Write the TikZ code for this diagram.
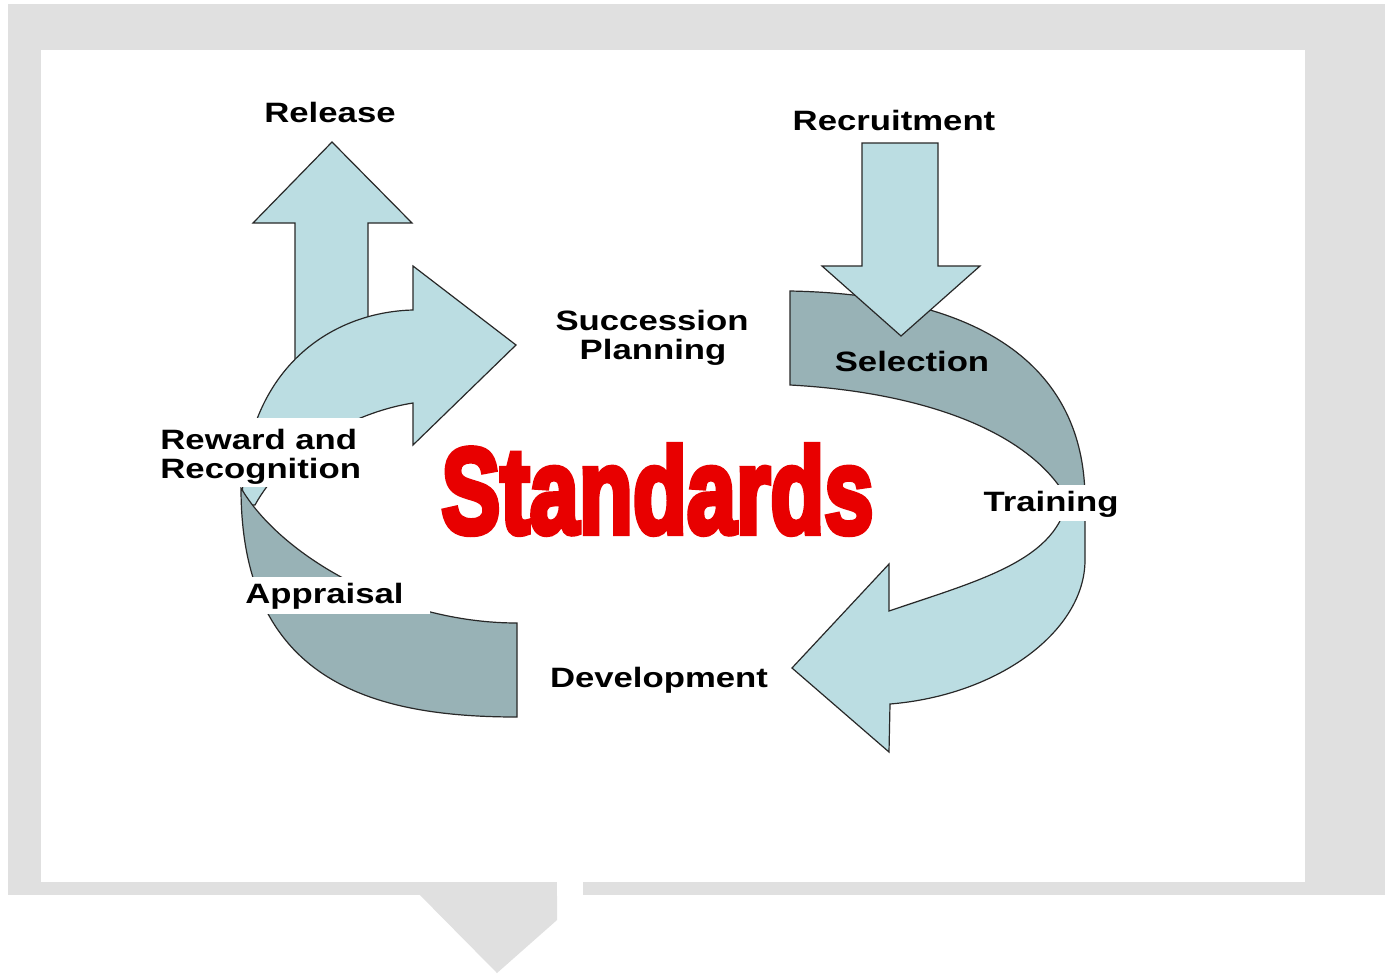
\documentclass[tikz,border=0pt]{standalone}
\usepackage{fontspec}
\setmainfont{Liberation Sans}[FakeStretch=1.24]
\newfontfamily\stdfont{Liberation Sans Bold}[FakeBold=5]
\definecolor{lightblue}{RGB}{187,221,226}
\definecolor{bandgrey}{RGB}{152,178,182}
\definecolor{outline}{RGB}{40,40,40}
\definecolor{framegrey}{RGB}{224,224,224}
\definecolor{stdred}{RGB}{232,0,0}
\begin{document}
\begin{tikzpicture}[x=0.5pt,y=-0.5pt,
  shapeline/.style={draw=outline, line width=0.6pt, line join=miter},
  lightarrow/.style={shapeline, fill=lightblue},
  greyband/.style={shapeline, fill=bandgrey},
  lbl/.style={font=\fontsize{14}{14.5}\selectfont\bfseries, inner sep=0pt, anchor=base, text=black},
  labelbg/.style={fill=white}]
\useasboundingbox (0,0) rectangle (1385,975);
\fill[white] (0,0) rectangle (1385,975);
% frame
\fill[framegrey] (8,4) rectangle (1385,895);
\fill[framegrey] (413,888) -- (557,882) -- (557,920) -- (497,973) -- cycle;
\fill[white] (41,50) rectangle (1305,882);
\fill[white] (557,882) rectangle (583,896);

% Release arrow
\draw[lightarrow] (295,380) -- (295,223) -- (253,223) -- (332,142) -- (412,223) -- (368,223) -- (368,380) -- cycle;
% Succession curved arrow
\draw[lightarrow] (242,505) .. controls (243,370) and (330,312) .. (413,310) -- (413,266) -- (516,345) -- (413,445) -- (413,403) .. controls (355,412) and (285,450) .. (255,505) -- cycle;
% Appraisal band
\draw[greyband] (517,623) -- (517,717) .. controls (370,717) and (241,680) .. (241,488) .. controls (280,555) and (395,623) .. (517,623) -- cycle;

% Selection band
\draw[greyband] (790,291) .. controls (1000,295) and (1085,380) .. (1085,500) -- (1068,500) .. controls (1030,430) and (920,392) .. (790,385) -- cycle;
% Development curved arrow
\draw[lightarrow] (1085,495) -- (1085,560) .. controls (1085,630) and (1000,695) .. (890,704) -- (889,752) -- (792,668) -- (889,564) -- (889,611) .. controls (980,580) and (1060,560) .. (1068,495) -- cycle;
% Recruitment arrow
\draw[lightarrow] (862,143) -- (938,143) -- (938,266) -- (980,266) -- (901,336) -- (822,266) -- (862,266) -- cycle;

% label backgrounds
\fill[labelbg] (155,418) rectangle (365,487);
\fill[labelbg] (235,577) rectangle (430,614);
\fill[labelbg] (982,485) rectangle (1120,521);

% labels
\node[lbl] (release) at (330,122) {Release};
\node[lbl] (recruit) at (894,130) {Recruitment};
\node[lbl] (succ1) at (652,330) {Succession};
\node[lbl] (succ2) at (653,359) {Planning};
\node[lbl] (sel) at (912,371) {Selection};
\node[lbl, anchor=base west] (reward1) at (160,449) {Reward and};
\node[lbl, anchor=base west] (reward2) at (160,478) {Recognition};
\node[lbl] (train) at (1051,511) {Training};
\node[lbl, anchor=base west] (appr) at (245,603) {Appraisal};
\node[lbl] (dev) at (659,687) {Development};
\node[inner sep=0pt, anchor=base west, text=stdred] (std) at (441,533) {\resizebox{216pt}{44pt}{\stdfont Standards}};
\end{tikzpicture}
\end{document}
